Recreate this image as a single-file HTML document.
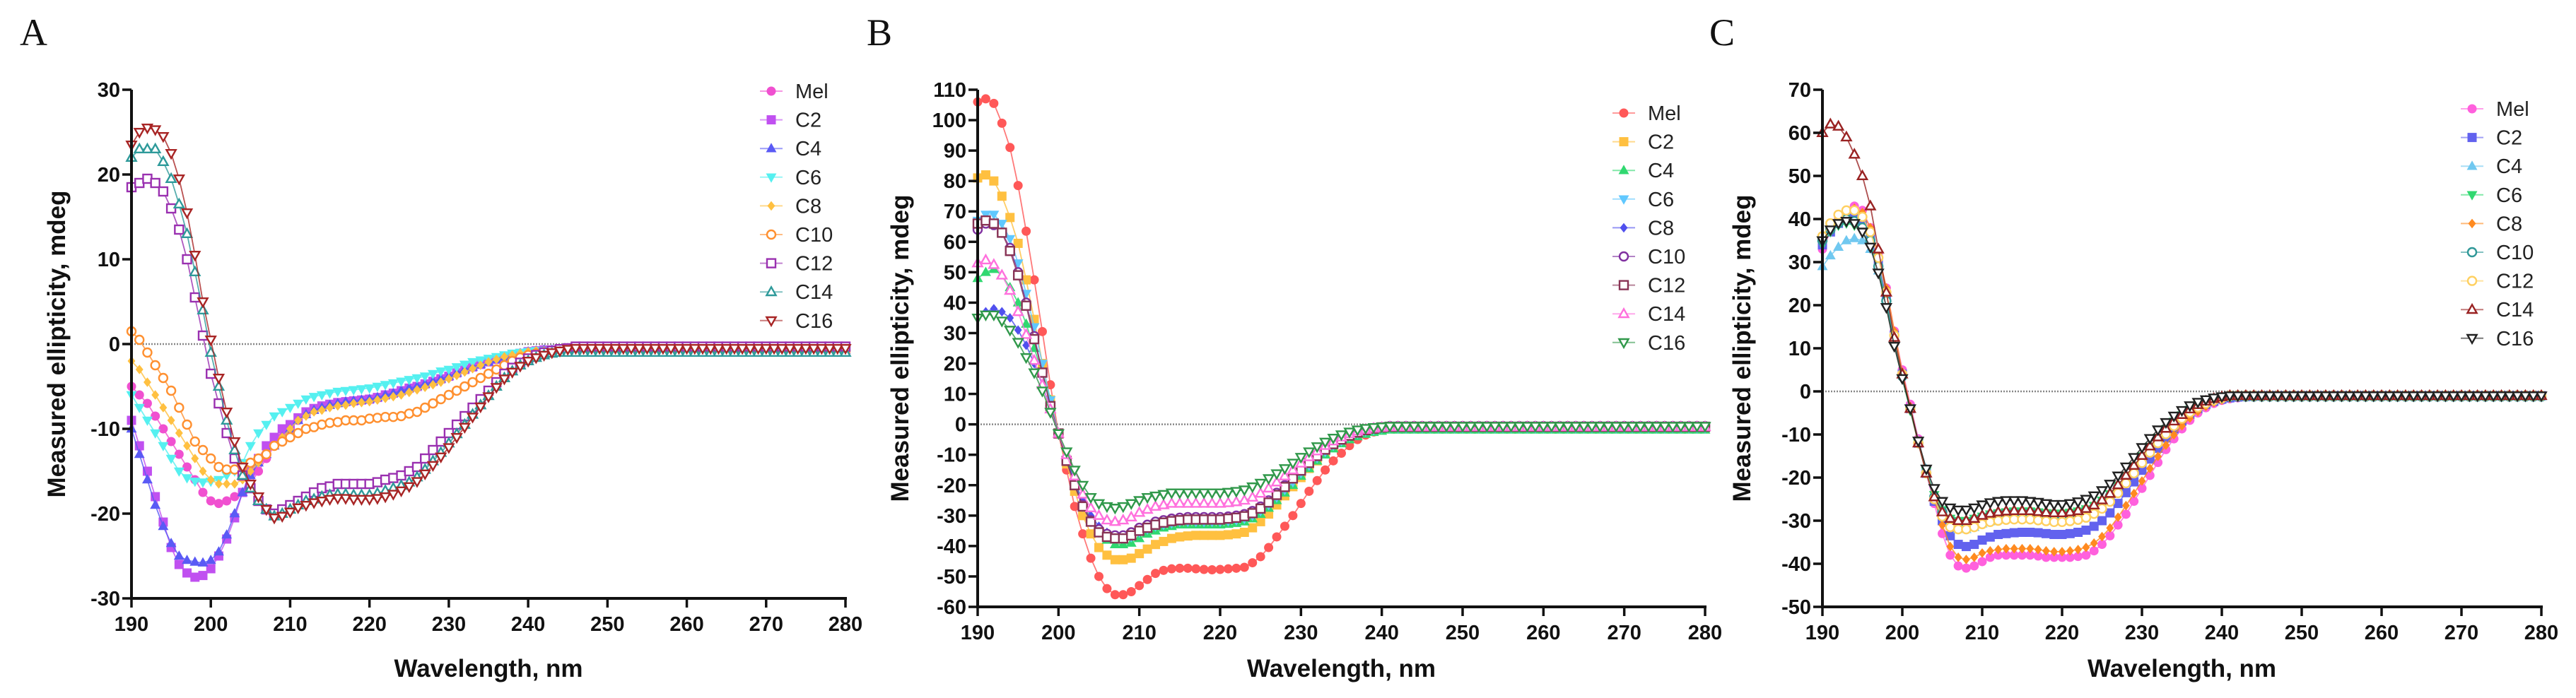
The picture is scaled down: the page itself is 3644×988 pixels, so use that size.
<!DOCTYPE html>
<html><head><meta charset="utf-8"><style>
html,body{margin:0;padding:0;background:#fff;}
svg{display:block;font-family:"Liberation Sans",Arial,sans-serif;}
.tick{font-weight:bold;font-size:29px;fill:#111;}
.ttl{font-weight:bold;font-size:35px;fill:#111;}
.leg{font-size:29px;fill:#222;}
.plab{font-family:"Liberation Serif",serif;font-size:54px;fill:#111;}
</style></head><body>
<svg id="fig" width="3644" height="988" viewBox="0 0 3644 988" xmlns="http://www.w3.org/2000/svg"></svg>
<script>
// ---------- data (values at 190..280 nm, 1 nm steps) ----------
const wlStart = 190, wlEnd = 280;
const xTicks = [190,200,210,220,230,240,250,260,270,280];
const yTicksA = [30,20,10,0,-10,-20,-30];
const yTicksB = [110,100,90,80,70,60,50,40,30,20,10,0,-10,-20,-30,-40,-50,-60];
const yTicksC = [70,60,50,40,30,20,10,0,-10,-20,-30,-40,-50];
const namesA = ["Mel","C2","C4","C6","C8","C10","C12","C14","C16"];
const namesB = ["Mel","C2","C4","C6","C8","C10","C12","C14","C16"];
const namesC = ["Mel","C2","C4","C6","C8","C10","C12","C14","C16"];

// Panel A
const A_Mel=[-5,-6,-7,-8.5,-10,-11.5,-13,-14.5,-16,-17.5,-18.5,-18.8,-18.5,-18,-17.5,-16.5,-15,-13.5,-12,-11,-10,-9,-8.3,-7.8,-7.5,-7.2,-7,-6.8,-6.7,-6.6,-6.5,-6.3,-6,-5.8,-5.5,-5.2,-5,-4.7,-4.4,-4.1,-3.8,-3.4,-3,-2.7,-2.4,-2.1,-1.8,-1.5,-1.3,-1.1,-0.9,-0.8,-0.7,-0.7,-0.6,-0.6,-0.6,-0.6,-0.6,-0.6,-0.6,-0.6,-0.6,-0.6,-0.6,-0.6,-0.6,-0.6,-0.6,-0.6,-0.6,-0.6,-0.6,-0.6,-0.6,-0.6,-0.6,-0.6,-0.6,-0.6,-0.6,-0.6,-0.6,-0.6,-0.6,-0.6,-0.6,-0.6,-0.6,-0.6,-0.6];
const A_C2=[-9,-12,-15,-18,-21,-24,-26,-27,-27.5,-27.3,-26.5,-25,-23,-20.5,-17.5,-15,-13.5,-12,-11,-10,-9.5,-8.7,-8,-7.6,-7.3,-7.1,-6.9,-6.8,-6.7,-6.6,-6.5,-6.3,-6,-5.8,-5.5,-5.2,-5,-4.7,-4.4,-4.1,-3.8,-3.4,-3,-2.7,-2.4,-2.1,-1.8,-1.5,-1.3,-1.1,-0.9,-0.8,-0.7,-0.7,-0.6,-0.6,-0.6,-0.6,-0.6,-0.6,-0.6,-0.6,-0.6,-0.6,-0.6,-0.6,-0.6,-0.6,-0.6,-0.6,-0.6,-0.6,-0.6,-0.6,-0.6,-0.6,-0.6,-0.6,-0.6,-0.6,-0.6,-0.6,-0.6,-0.6,-0.6,-0.6,-0.6,-0.6,-0.6,-0.6,-0.6];
const A_C4=[-10,-13,-16,-19,-21.5,-23.5,-25,-25.5,-25.7,-25.8,-25.5,-24.5,-22.5,-20,-17.5,-15.5,-14,-13,-12,-11,-10,-9,-8.3,-7.8,-7.5,-7.2,-7,-6.8,-6.7,-6.6,-6.5,-6.3,-6,-5.8,-5.5,-5.2,-5,-4.7,-4.4,-4.1,-3.8,-3.4,-3,-2.7,-2.4,-2.1,-1.8,-1.5,-1.3,-1.1,-0.9,-0.8,-0.7,-0.7,-0.7,-0.7,-0.7,-0.7,-0.7,-0.7,-0.7,-0.7,-0.7,-0.7,-0.7,-0.7,-0.7,-0.7,-0.7,-0.7,-0.7,-0.7,-0.7,-0.7,-0.7,-0.7,-0.7,-0.7,-0.7,-0.7,-0.7,-0.7,-0.7,-0.7,-0.7,-0.7,-0.7,-0.7,-0.7,-0.7,-0.7];
const A_C6=[-6,-7.5,-9,-10.5,-12,-13.5,-15,-15.8,-16.2,-16.3,-16.2,-16,-15.5,-15,-14,-12,-10.5,-9.5,-8.5,-8,-7.5,-7,-6.5,-6.2,-6,-5.8,-5.6,-5.5,-5.4,-5.3,-5.2,-5,-4.8,-4.6,-4.4,-4.2,-4,-3.8,-3.5,-3.2,-3,-2.7,-2.4,-2.1,-1.9,-1.7,-1.5,-1.3,-1.1,-1,-0.9,-0.8,-0.8,-0.8,-0.8,-0.8,-0.8,-0.8,-0.8,-0.8,-0.8,-0.8,-0.8,-0.8,-0.8,-0.8,-0.8,-0.8,-0.8,-0.8,-0.8,-0.8,-0.8,-0.8,-0.8,-0.8,-0.8,-0.8,-0.8,-0.8,-0.8,-0.8,-0.8,-0.8,-0.8,-0.8,-0.8,-0.8,-0.8,-0.8,-0.8];
const A_C8=[-2,-3,-4.5,-6,-7.5,-9,-10.5,-12,-13.5,-15,-16,-16.5,-16.5,-16.5,-16,-15,-14,-13,-12,-11,-10,-9,-8.5,-8,-7.8,-7.5,-7.3,-7.2,-7,-6.9,-6.8,-6.6,-6.4,-6.2,-6,-5.7,-5.4,-5.1,-4.8,-4.5,-4.1,-3.7,-3.3,-2.9,-2.5,-2.1,-1.8,-1.5,-1.3,-1.1,-0.9,-0.8,-0.8,-0.8,-0.8,-0.8,-0.8,-0.8,-0.8,-0.8,-0.8,-0.8,-0.8,-0.8,-0.8,-0.8,-0.8,-0.8,-0.8,-0.8,-0.8,-0.8,-0.8,-0.8,-0.8,-0.8,-0.8,-0.8,-0.8,-0.8,-0.8,-0.8,-0.8,-0.8,-0.8,-0.8,-0.8,-0.8,-0.8,-0.8,-0.8];
const A_C10=[1.5,0.5,-1,-2.5,-4,-5.5,-7.5,-9.5,-11.5,-12.5,-13.5,-14.5,-14.8,-14.8,-14.5,-14,-13.5,-13,-12,-11.5,-11,-10.5,-10,-9.8,-9.5,-9.3,-9.2,-9,-9,-9,-8.8,-8.7,-8.6,-8.6,-8.5,-8.2,-8,-7.5,-7,-6.5,-6,-5.5,-5,-4.5,-4,-3.5,-3,-2.5,-2,-1.6,-1.3,-1.1,-1,-0.9,-0.9,-0.8,-0.8,-0.8,-0.8,-0.8,-0.8,-0.8,-0.8,-0.8,-0.8,-0.8,-0.8,-0.8,-0.8,-0.8,-0.8,-0.8,-0.8,-0.8,-0.8,-0.8,-0.8,-0.8,-0.8,-0.8,-0.8,-0.8,-0.8,-0.8,-0.8,-0.8,-0.8,-0.8,-0.8,-0.8,-0.8];
const A_C12=[18.5,19,19.5,19,18,16,13.5,10,5.5,1,-3.5,-7,-10.5,-13.5,-15.5,-17,-18.5,-19.5,-20,-19.5,-19,-18.5,-18,-17.5,-17,-16.8,-16.5,-16.5,-16.5,-16.5,-16.5,-16.3,-16,-15.8,-15.5,-15,-14.5,-13.5,-12.5,-11.5,-10.5,-9.5,-8.5,-7.5,-6.5,-5.5,-4.5,-3.5,-2.8,-2.2,-1.7,-1.3,-1,-0.8,-0.6,-0.5,-0.3,-0.3,-0.3,-0.3,-0.3,-0.3,-0.3,-0.3,-0.3,-0.3,-0.3,-0.3,-0.3,-0.3,-0.3,-0.3,-0.3,-0.3,-0.3,-0.3,-0.3,-0.3,-0.3,-0.3,-0.3,-0.3,-0.3,-0.3,-0.3,-0.3,-0.3,-0.3,-0.3,-0.3,-0.3];
const A_C14=[22,23,23,23,21.5,19.5,16.5,13,8.5,4,-1,-5,-9,-12.5,-15.5,-17,-18.5,-19.5,-20.3,-20,-19.5,-19,-18.5,-18.3,-18,-17.8,-17.7,-17.7,-17.8,-17.8,-17.8,-17.6,-17.3,-17,-16.7,-16.3,-15.7,-14.8,-13.8,-12.8,-11.7,-10.6,-9.5,-8.3,-7.2,-6.1,-5,-4,-3.2,-2.5,-2,-1.6,-1.3,-1.1,-1,-1,-1,-1,-1,-1,-1,-1,-1,-1,-1,-1,-1,-1,-1,-1,-1,-1,-1,-1,-1,-1,-1,-1,-1,-1,-1,-1,-1,-1,-1,-1,-1,-1,-1,-1,-1];
const A_C16=[23.5,25,25.5,25.3,24.5,22.5,19.5,15.5,10.5,5,0.5,-4,-8,-11.5,-14.5,-16.5,-18,-19.5,-20.5,-20.3,-19.8,-19.3,-19,-18.7,-18.5,-18.3,-18.2,-18.2,-18.3,-18.3,-18.3,-18.2,-18,-17.7,-17.3,-16.8,-16.2,-15.3,-14.3,-13.3,-12.2,-11,-9.8,-8.6,-7.4,-6.2,-5.1,-4.1,-3.3,-2.6,-2,-1.6,-1.3,-1,-0.8,-0.6,-0.5,-0.5,-0.5,-0.5,-0.5,-0.5,-0.5,-0.5,-0.5,-0.5,-0.5,-0.5,-0.5,-0.5,-0.5,-0.5,-0.5,-0.5,-0.5,-0.5,-0.5,-0.5,-0.5,-0.5,-0.5,-0.5,-0.5,-0.5,-0.5,-0.5,-0.5,-0.5,-0.5,-0.5,-0.5];

// Panel B
const B_Mel=[106,107,105.5,99,91,78.5,63.5,47.5,30.5,13,-3,-15,-27,-36,-44,-50,-54,-56,-56,-55,-53,-51,-49,-48,-47.5,-47.3,-47.3,-47.5,-47.7,-47.8,-47.7,-47.5,-47.3,-47,-45.5,-43.5,-40.5,-37,-33.5,-30,-26,-22,-18.5,-15,-12,-9.5,-7,-5,-3.5,-2.5,-1.8,-1.4,-1.2,-1.1,-1,-1,-1,-1,-1,-1,-1,-1,-1,-1,-1,-1,-1,-1,-1,-1,-1,-1,-1,-1,-1,-1,-1,-1,-1,-1,-1,-1,-1,-1,-1,-1,-1,-1,-1,-1,-1];
const B_C2=[81,82,80,75,68,59.5,47.5,34.5,20,8,-3,-13,-22,-30,-36,-40.5,-43,-44.5,-44.5,-44,-42.5,-41,-39.5,-38.5,-37.5,-37,-36.7,-36.5,-36.5,-36.5,-36.5,-36.3,-36,-35.5,-34,-32,-29.5,-26.5,-23.5,-20.5,-17.5,-14.5,-12,-9.5,-7.5,-5.8,-4.3,-3.2,-2.4,-1.9,-1.6,-1.4,-1.4,-1.4,-1.4,-1.4,-1.4,-1.4,-1.4,-1.4,-1.4,-1.4,-1.4,-1.4,-1.4,-1.4,-1.4,-1.4,-1.4,-1.4,-1.4,-1.4,-1.4,-1.4,-1.4,-1.4,-1.4,-1.4,-1.4,-1.4,-1.4,-1.4,-1.4,-1.4,-1.4,-1.4,-1.4,-1.4,-1.4,-1.4,-1.4];
const B_C4=[48,50,51,49,45,40,33,25,17,8,-3,-11,-19,-26,-31,-35,-38,-39.5,-39.5,-39,-37.5,-36,-35,-34,-33.5,-33,-33,-33,-33,-33,-33,-32.8,-32.5,-32,-31,-29.5,-27.5,-25,-22.5,-20,-17,-14.5,-12,-10,-8,-6.3,-5,-4,-3.2,-2.6,-2.2,-1.8,-1.8,-1.8,-1.8,-1.8,-1.8,-1.8,-1.8,-1.8,-1.8,-1.8,-1.8,-1.8,-1.8,-1.8,-1.8,-1.8,-1.8,-1.8,-1.8,-1.8,-1.8,-1.8,-1.8,-1.8,-1.8,-1.8,-1.8,-1.8,-1.8,-1.8,-1.8,-1.8,-1.8,-1.8,-1.8,-1.8,-1.8,-1.8,-1.8];
const B_C6=[67,69,69,66,61,53,43,32,20,8,-3,-12,-20,-27,-32,-35.5,-37,-37.5,-37.5,-37,-35.5,-34.5,-33.5,-33,-32.5,-32,-32,-32,-32,-32,-32,-31.8,-31.5,-31,-30,-28.5,-26.5,-24,-21.5,-19,-16,-13.5,-11,-9,-7,-5.5,-4,-3,-2.3,-1.8,-1.4,-1.2,-1.2,-1.2,-1.2,-1.2,-1.2,-1.2,-1.2,-1.2,-1.2,-1.2,-1.2,-1.2,-1.2,-1.2,-1.2,-1.2,-1.2,-1.2,-1.2,-1.2,-1.2,-1.2,-1.2,-1.2,-1.2,-1.2,-1.2,-1.2,-1.2,-1.2,-1.2,-1.2,-1.2,-1.2,-1.2,-1.2,-1.2,-1.2,-1.2];
const B_C8=[35,37,38,37,35,31,26,20,13,5,-3,-11,-19,-25,-30,-33.5,-35.5,-36.5,-36.5,-36,-34.5,-33.5,-32.5,-32,-31.5,-31.3,-31.2,-31.2,-31.2,-31.2,-31.2,-31,-30.7,-30.2,-29.2,-27.7,-25.7,-23.2,-20.7,-18,-15.2,-12.7,-10.3,-8.2,-6.4,-4.9,-3.6,-2.6,-1.9,-1.4,-1,-0.8,-0.8,-0.8,-0.8,-0.8,-0.8,-0.8,-0.8,-0.8,-0.8,-0.8,-0.8,-0.8,-0.8,-0.8,-0.8,-0.8,-0.8,-0.8,-0.8,-0.8,-0.8,-0.8,-0.8,-0.8,-0.8,-0.8,-0.8,-0.8,-0.8,-0.8,-0.8,-0.8,-0.8,-0.8,-0.8,-0.8,-0.8,-0.8,-0.8];
const B_C10=[64,66,65.5,63,58,50,40,29,17,6,-3,-12,-20,-26.5,-31.5,-34.5,-36,-36.5,-36.5,-35.5,-34,-33,-32,-31.5,-31,-30.7,-30.5,-30.5,-30.5,-30.5,-30.5,-30.3,-30,-29.5,-28.5,-27,-25,-22.5,-20,-17,-14.5,-12,-10,-8,-6.2,-4.7,-3.4,-2.4,-1.7,-1.2,-0.9,-0.6,-0.6,-0.6,-0.6,-0.6,-0.6,-0.6,-0.6,-0.6,-0.6,-0.6,-0.6,-0.6,-0.6,-0.6,-0.6,-0.6,-0.6,-0.6,-0.6,-0.6,-0.6,-0.6,-0.6,-0.6,-0.6,-0.6,-0.6,-0.6,-0.6,-0.6,-0.6,-0.6,-0.6,-0.6,-0.6,-0.6,-0.6,-0.6,-0.6];
const B_C12=[66,67,66,63,57,49,39,28,17,6,-3,-12,-20,-27,-32,-35.5,-37,-37.5,-37.5,-36.5,-35,-34,-33,-32.3,-31.8,-31.5,-31.3,-31.3,-31.3,-31.3,-31.3,-31,-30.7,-30.2,-29.2,-27.7,-25.7,-23.2,-20.6,-17.8,-15.2,-12.7,-10.4,-8.3,-6.5,-5,-3.7,-2.7,-1.9,-1.4,-1,-0.8,-0.8,-0.8,-0.8,-0.8,-0.8,-0.8,-0.8,-0.8,-0.8,-0.8,-0.8,-0.8,-0.8,-0.8,-0.8,-0.8,-0.8,-0.8,-0.8,-0.8,-0.8,-0.8,-0.8,-0.8,-0.8,-0.8,-0.8,-0.8,-0.8,-0.8,-0.8,-0.8,-0.8,-0.8,-0.8,-0.8,-0.8,-0.8,-0.8];
const B_C14=[53,54,52.5,49,44,37,29.5,21,13,5,-3,-10,-17,-23,-27.5,-30,-31.5,-32,-31.5,-30.5,-29,-28,-27,-26.5,-26,-26,-26,-26,-26,-26,-26,-25.8,-25.5,-25,-24,-22.7,-21,-19,-17,-15,-12.8,-10.7,-8.8,-7,-5.5,-4.2,-3.1,-2.3,-1.7,-1.3,-1,-0.8,-0.8,-0.8,-0.8,-0.8,-0.8,-0.8,-0.8,-0.8,-0.8,-0.8,-0.8,-0.8,-0.8,-0.8,-0.8,-0.8,-0.8,-0.8,-0.8,-0.8,-0.8,-0.8,-0.8,-0.8,-0.8,-0.8,-0.8,-0.8,-0.8,-0.8,-0.8,-0.8,-0.8,-0.8,-0.8,-0.8,-0.8,-0.8,-0.8];
const B_C16=[35,36,36,34,31,27,22,17,11,4,-3,-9,-15,-20,-24,-26,-27,-27.5,-27,-26,-25,-24,-23.5,-23,-22.5,-22.5,-22.5,-22.5,-22.5,-22.5,-22.5,-22.3,-22,-21.5,-20.5,-19.3,-17.8,-16.2,-14.5,-12.7,-10.8,-9,-7.3,-5.8,-4.5,-3.4,-2.5,-1.8,-1.3,-1,-0.8,-0.6,-0.6,-0.6,-0.6,-0.6,-0.6,-0.6,-0.6,-0.6,-0.6,-0.6,-0.6,-0.6,-0.6,-0.6,-0.6,-0.6,-0.6,-0.6,-0.6,-0.6,-0.6,-0.6,-0.6,-0.6,-0.6,-0.6,-0.6,-0.6,-0.6,-0.6,-0.6,-0.6,-0.6,-0.6,-0.6,-0.6,-0.6,-0.6,-0.6];

// Panel C
const C_Mel=[33,37,40,42,43,42,38,32,24,14,5,-3,-11,-19,-26,-33,-38,-40.5,-41,-40.5,-39.5,-38.5,-38,-38,-38,-38,-38,-38.2,-38.5,-38.5,-38.5,-38.5,-38.3,-38,-37,-35.5,-33.5,-31,-28.5,-25.5,-22.5,-19.5,-16.5,-13.5,-11,-8.7,-6.7,-5,-3.8,-2.8,-2.1,-1.7,-1.5,-1.3,-1.2,-1.1,-1,-1,-1,-1,-1,-1,-1,-1,-1,-1,-1,-1,-1,-1,-1,-1,-1,-1,-1,-1,-1,-1,-1,-1,-1,-1,-1,-1,-1,-1,-1,-1,-1,-1,-1];
const C_C2=[34,37,39,40,40.5,39.5,36,30,22,13,4,-4,-12,-19,-25.5,-30,-33.5,-35.5,-36,-35.5,-34.5,-33.8,-33.2,-33,-32.8,-32.7,-32.7,-32.8,-33,-33.2,-33.2,-33,-32.7,-32.2,-31.3,-30,-28.2,-26,-23.5,-21,-18.3,-15.7,-13.2,-10.8,-8.7,-6.9,-5.3,-4,-3,-2.3,-1.8,-1.5,-1.3,-1.2,-1.1,-1,-1,-1,-1,-1,-1,-1,-1,-1,-1,-1,-1,-1,-1,-1,-1,-1,-1,-1,-1,-1,-1,-1,-1,-1,-1,-1,-1,-1,-1,-1,-1,-1,-1,-1,-1];
const C_C4=[29,31.5,33.5,35,35.5,35,33,28,21,12,4,-4,-11.5,-18,-23.5,-28,-31,-32,-32,-31.5,-30.7,-30.2,-29.8,-29.5,-29.3,-29.3,-29.3,-29.5,-29.7,-29.8,-29.8,-29.6,-29.3,-28.8,-28,-26.8,-25.2,-23.2,-21,-18.7,-16.3,-14,-11.8,-9.7,-7.8,-6.1,-4.7,-3.5,-2.6,-2,-1.6,-1.2,-1.2,-1.2,-1.2,-1.2,-1.2,-1.2,-1.2,-1.2,-1.2,-1.2,-1.2,-1.2,-1.2,-1.2,-1.2,-1.2,-1.2,-1.2,-1.2,-1.2,-1.2,-1.2,-1.2,-1.2,-1.2,-1.2,-1.2,-1.2,-1.2,-1.2,-1.2,-1.2,-1.2,-1.2,-1.2,-1.2,-1.2,-1.2,-1.2];
const C_C6=[34,37,38.5,39,38.5,37,34,28,20,11,3,-4.5,-12,-18.5,-24,-27.5,-29.5,-30,-30,-29.5,-29,-28.5,-28.2,-28,-27.8,-27.8,-27.8,-28,-28.2,-28.3,-28.3,-28.1,-27.8,-27.3,-26.5,-25.3,-23.8,-21.8,-19.6,-17.3,-15,-12.8,-10.7,-8.7,-7,-5.5,-4.2,-3.2,-2.4,-1.8,-1.4,-1.2,-1.2,-1.2,-1.2,-1.2,-1.2,-1.2,-1.2,-1.2,-1.2,-1.2,-1.2,-1.2,-1.2,-1.2,-1.2,-1.2,-1.2,-1.2,-1.2,-1.2,-1.2,-1.2,-1.2,-1.2,-1.2,-1.2,-1.2,-1.2,-1.2,-1.2,-1.2,-1.2,-1.2,-1.2,-1.2,-1.2,-1.2,-1.2,-1.2];
const C_C8=[35,38,40.5,42,42.5,41.5,38,32,24,14,4.5,-3.5,-11.5,-18.5,-25,-31,-36,-38.5,-39,-38.5,-37.5,-37,-36.7,-36.5,-36.5,-36.5,-36.5,-36.7,-37,-37.2,-37.2,-37,-36.7,-36.2,-35.2,-33.7,-31.7,-29.2,-26.5,-23.7,-20.8,-17.9,-15.1,-12.5,-10.1,-8,-6.2,-4.7,-3.5,-2.6,-2,-1.6,-1.3,-1.2,-1,-1,-1,-1,-1,-1,-1,-1,-1,-1,-1,-1,-1,-1,-1,-1,-1,-1,-1,-1,-1,-1,-1,-1,-1,-1,-1,-1,-1,-1,-1,-1,-1,-1,-1,-1,-1];
const C_C10=[35,37.5,39,40,39.5,38,35,29,21,11.5,3.5,-4,-12,-19,-24.5,-28,-30,-30.5,-30.5,-30,-29.3,-28.8,-28.5,-28.3,-28.2,-28.2,-28.2,-28.4,-28.6,-28.8,-28.8,-28.6,-28.3,-27.8,-27,-25.8,-24.3,-22.3,-20.1,-17.8,-15.5,-13.2,-11,-9,-7.2,-5.6,-4.3,-3.2,-2.4,-1.8,-1.4,-1.2,-1.2,-1.2,-1.2,-1.2,-1.2,-1.2,-1.2,-1.2,-1.2,-1.2,-1.2,-1.2,-1.2,-1.2,-1.2,-1.2,-1.2,-1.2,-1.2,-1.2,-1.2,-1.2,-1.2,-1.2,-1.2,-1.2,-1.2,-1.2,-1.2,-1.2,-1.2,-1.2,-1.2,-1.2,-1.2,-1.2,-1.2,-1.2,-1.2];
const C_C12=[36,39,41,42,42,40.5,37,31,23,13,4,-4,-12,-19,-25,-29,-31.5,-32,-32,-31.5,-30.8,-30.3,-30,-29.8,-29.7,-29.7,-29.7,-29.9,-30.1,-30.3,-30.3,-30.1,-29.8,-29.3,-28.4,-27.2,-25.6,-23.6,-21.3,-19,-16.6,-14.2,-12,-9.9,-8,-6.3,-4.9,-3.7,-2.8,-2.1,-1.6,-1,-1,-1,-1,-1,-1,-1,-1,-1,-1,-1,-1,-1,-1,-1,-1,-1,-1,-1,-1,-1,-1,-1,-1,-1,-1,-1,-1,-1,-1,-1,-1,-1,-1,-1,-1,-1,-1,-1,-1];
const C_C14=[60,62,61.5,59,55,50,43,33,23,12.5,4,-4,-12,-19,-24.5,-28,-29.5,-30,-30,-29.5,-28.8,-28.3,-28,-27.8,-27.7,-27.7,-27.7,-27.9,-28.1,-28.2,-28.2,-28,-27.7,-27.2,-26.4,-25.2,-23.7,-21.7,-19.5,-17.2,-14.9,-12.7,-10.6,-8.6,-6.9,-5.4,-4.1,-3.1,-2.3,-1.7,-1.3,-1,-1,-1,-1,-1,-1,-1,-1,-1,-1,-1,-1,-1,-1,-1,-1,-1,-1,-1,-1,-1,-1,-1,-1,-1,-1,-1,-1,-1,-1,-1,-1,-1,-1,-1,-1,-1,-1,-1,-1];
const C_C16=[35,37.5,39,39.5,39,37,33.5,27.5,19.5,10.5,3,-4,-11.5,-18,-22.5,-25.5,-27,-27.5,-27.5,-27,-26.3,-25.8,-25.5,-25.3,-25.3,-25.3,-25.5,-25.7,-26,-26.2,-26.2,-26,-25.6,-25,-24.2,-23,-21.5,-19.6,-17.5,-15.3,-13,-10.9,-8.9,-7.2,-5.7,-4.4,-3.3,-2.5,-1.9,-1.5,-1.2,-1,-1,-1,-1,-1,-1,-1,-1,-1,-1,-1,-1,-1,-1,-1,-1,-1,-1,-1,-1,-1,-1,-1,-1,-1,-1,-1,-1,-1,-1,-1,-1,-1,-1,-1,-1,-1,-1,-1,-1];

// ---------- drawing ----------
const NS = "http://www.w3.org/2000/svg";
const svg = document.getElementById("fig");
function mk(tag, attrs, parent){
  const e = document.createElementNS(NS, tag);
  for (const k in attrs) e.setAttribute(k, attrs[k]);
  (parent||svg).appendChild(e);
  return e;
}
function marker(g, type, color, cx, cy, r){
  const open = type.startsWith("o");
  const fill = open ? "#fff" : color;
  const sw = open ? 2.4 : 1;
  const shape = type.replace(/^o/,"");
  let e;
  if (shape==="circle") e = mk("circle",{cx:cx,cy:cy,r:r,fill:fill,stroke:color,"stroke-width":sw},g);
  else if (shape==="square") e = mk("rect",{x:cx-r,y:cy-r,width:2*r,height:2*r,fill:fill,stroke:color,"stroke-width":sw},g);
  else if (shape==="tri") e = mk("polygon",{points:`${cx},${cy-r*1.15} ${cx-r*1.1},${cy+r*0.8} ${cx+r*1.1},${cy+r*0.8}`,fill:fill,stroke:color,"stroke-width":sw},g);
  else if (shape==="dtri") e = mk("polygon",{points:`${cx},${cy+r*1.15} ${cx-r*1.1},${cy-r*0.8} ${cx+r*1.1},${cy-r*0.8}`,fill:fill,stroke:color,"stroke-width":sw},g);
  else e = mk("polygon",{points:`${cx},${cy-r} ${cx+r*0.8},${cy} ${cx},${cy+r} ${cx-r*0.8},${cy}`,fill:fill,stroke:color,"stroke-width":sw},g);
  return e;
}

function panel(cfg){
  const g = mk("g",{});
  
  
  const xs = v => cfg.x0 + (v - wlStart)/(wlEnd - wlStart)*(cfg.x1 - cfg.x0);
  const ys = v => cfg.yT + (cfg.ymax - v)/(cfg.ymax - cfg.ymin)*(cfg.yB - cfg.yT);

  const pl = mk("text",{x:cfg.labX,y:64,class:"plab"},g);
  pl.textContent = cfg.label;
  
  

  const zl = mk("line",{x1:cfg.x0,x2:cfg.x1,y1:ys(0),y2:ys(0),stroke:"#888","stroke-width":2.5,"stroke-dasharray":"2,2"},g);
  
  

  cfg.series.forEach((s,si)=>{
    const sg = mk("g",{},g);
    
    
    const pts = s.data.map((v,i)=>`${xs(wlStart+i).toFixed(1)},${ys(v).toFixed(1)}`).join(" ");
    mk("polyline",{points:pts,fill:"none",stroke:s.color,"stroke-width":1.8,"stroke-opacity":0.8},sg);
    s.data.forEach((v,i)=>{
      const m = marker(sg, s.mk, s.color, xs(wlStart+i), ys(v), 6);
      
      
    });
  });

  const ax = mk("g",{},g);
  
  
  mk("line",{x1:cfg.x0,x2:cfg.x0,y1:cfg.yT,y2:cfg.yB+2,stroke:"#111","stroke-width":4},ax);
  mk("line",{x1:cfg.x0-2,x2:cfg.x1+2,y1:cfg.yB,y2:cfg.yB,stroke:"#111","stroke-width":4},ax);
  cfg.yTicks.forEach(t=>{
    const y = ys(t);
    mk("line",{x1:cfg.x0-13,x2:cfg.x0,y1:y,y2:y,stroke:"#111","stroke-width":3.5},ax);
    const tx = mk("text",{x:cfg.x0-16,y:y+10,"text-anchor":"end",class:"tick"},ax);
    tx.textContent = t;
    
    
  });
  xTicks.forEach(t=>{
    const x = xs(t);
    mk("line",{x1:x,x2:x,y1:cfg.yB,y2:cfg.yB+13,stroke:"#111","stroke-width":3.5},ax);
    const tx = mk("text",{x:x,y:cfg.yB+46,"text-anchor":"middle",class:"tick"},ax);
    tx.textContent = t;
    
    
  });
  const xt = mk("text",{x:(cfg.x0+cfg.x1)/2,y:958,"text-anchor":"middle",class:"ttl"},g);
  xt.textContent = "Wavelength, nm";
  
  
  const ytY = (cfg.yT+cfg.yB)/2;
  const yt = mk("text",{x:cfg.ytX,y:ytY,"text-anchor":"middle",class:"ttl",transform:`rotate(-90 ${cfg.ytX} ${ytY})`},g);
  yt.textContent = "Measured ellipticity, mdeg";
  
  

  const lg = mk("g",{},g);
  
  
  cfg.series.forEach((s,i)=>{
    const y = cfg.legY + i*40.6;
    const eg = mk("g",{},lg);
    
    
    mk("line",{x1:cfg.legX-16,x2:cfg.legX+16,y1:y,y2:y,stroke:s.color,"stroke-width":2,"stroke-opacity":0.6},eg);
    marker(eg, s.mk, s.color, cfg.legX, y, 6);
    const t = mk("text",{x:cfg.legX+34,y:y+10,class:"leg"},eg);
    t.textContent = s.name;
  });
}

panel({id:"panel-a",label:"A",labX:28,x0:186,x1:1196,yT:127,yB:847,ymax:30,ymin:-30,yTicks:yTicksA,ytX:92,legX:1091,legY:129,
  series:[
    {name:namesA[0],data:A_Mel,color:"#f050d0",mk:"circle"},
    {name:namesA[1],data:A_C2,color:"#c050f0",mk:"square"},
    {name:namesA[2],data:A_C4,color:"#5a5af5",mk:"tri"},
    {name:namesA[3],data:A_C6,color:"#55f0f0",mk:"dtri"},
    {name:namesA[4],data:A_C8,color:"#ffc040",mk:"diamond"},
    {name:namesA[5],data:A_C10,color:"#ff9030",mk:"ocircle"},
    {name:namesA[6],data:A_C12,color:"#9a30b0",mk:"osquare"},
    {name:namesA[7],data:A_C14,color:"#2e9a9a",mk:"otri"},
    {name:namesA[8],data:A_C16,color:"#a82525",mk:"odtri"}
  ]});
panel({id:"panel-b",label:"B",labX:1226,x0:1383,x1:2412,yT:127,yB:859,ymax:110,ymin:-60,yTicks:yTicksB,ytX:1285,legX:2297,legY:160,
  series:[
    {name:namesB[0],data:B_Mel,color:"#ff5858",mk:"circle"},
    {name:namesB[1],data:B_C2,color:"#ffc040",mk:"square"},
    {name:namesB[2],data:B_C4,color:"#30d870",mk:"tri"},
    {name:namesB[3],data:B_C6,color:"#60c8ff",mk:"dtri"},
    {name:namesB[4],data:B_C8,color:"#5050ee",mk:"diamond"},
    {name:namesB[5],data:B_C10,color:"#8030a0",mk:"ocircle"},
    {name:namesB[6],data:B_C12,color:"#883355",mk:"osquare"},
    {name:namesB[7],data:B_C14,color:"#ff70dd",mk:"otri"},
    {name:namesB[8],data:B_C16,color:"#30984a",mk:"odtri"}
  ]});
panel({id:"panel-c",label:"C",labX:2418,x0:2578,x1:3595,yT:127,yB:859,ymax:70,ymin:-50,yTicks:yTicksC,ytX:2476,legX:3497,legY:154,
  series:[
    {name:namesC[0],data:C_Mel,color:"#ff60dd",mk:"circle"},
    {name:namesC[1],data:C_C2,color:"#6262ee",mk:"square"},
    {name:namesC[2],data:C_C4,color:"#70c8f0",mk:"tri"},
    {name:namesC[3],data:C_C6,color:"#30d870",mk:"dtri"},
    {name:namesC[4],data:C_C8,color:"#ff8a20",mk:"diamond"},
    {name:namesC[5],data:C_C10,color:"#309898",mk:"ocircle"},
    {name:namesC[6],data:C_C12,color:"#ffd060",mk:"ocircle"},
    {name:namesC[7],data:C_C14,color:"#992222",mk:"otri"},
    {name:namesC[8],data:C_C16,color:"#222222",mk:"odtri"}
  ]});
</script>
</body></html>
